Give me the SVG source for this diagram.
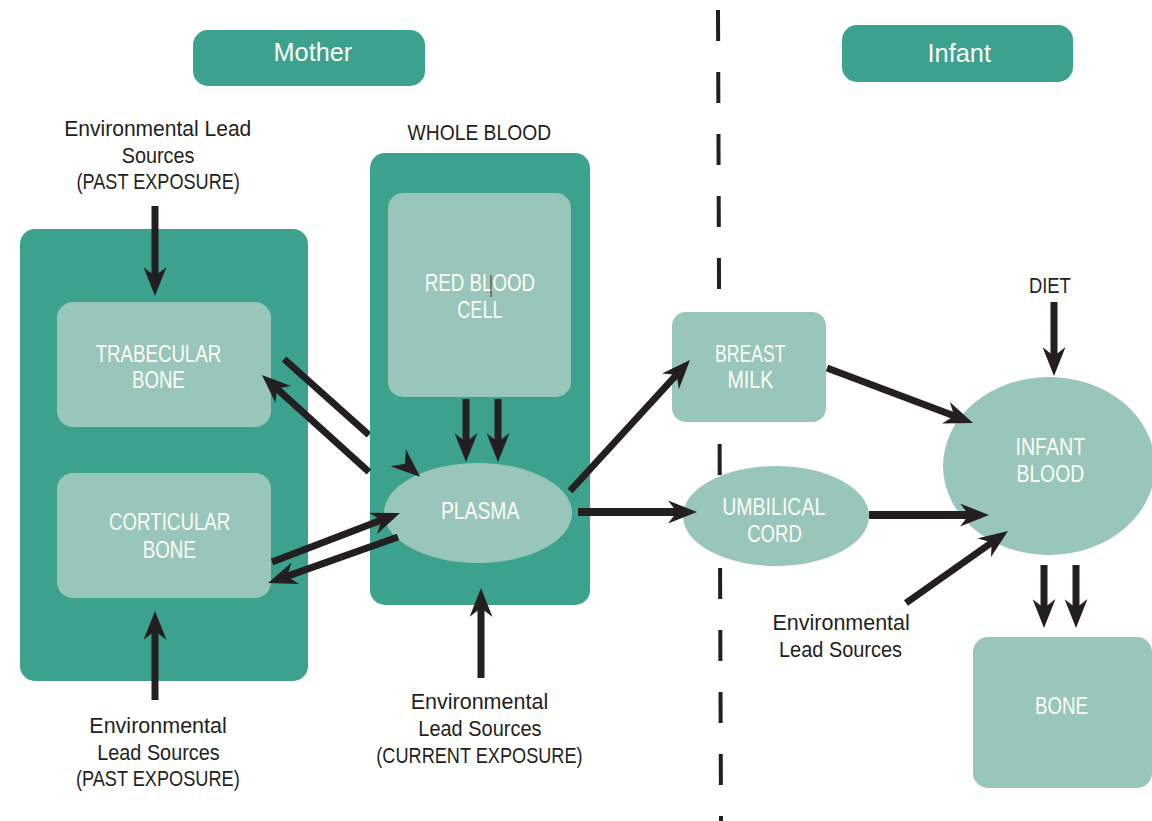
<svg xmlns="http://www.w3.org/2000/svg" width="1152" height="821" viewBox="0 0 1152 821">
<defs>
<style>
.dk{fill:#3ca28d}
.lt{fill:#98c6ba}
.t{font-family:"Liberation Sans",Arial,sans-serif;font-size:22px;fill:#231f20}
.w{font-family:"Liberation Sans",Arial,sans-serif;font-size:23px;fill:#fffef6}
.h{font-family:"Liberation Sans",Arial,sans-serif;font-size:25px;fill:#fffef6}
.a{stroke:#231f20;stroke-width:7;fill:none;marker-end:url(#ah)}
.a8{stroke:#231f20;stroke-width:8;fill:none;marker-end:url(#ah)}
.ln{stroke:#231f20;stroke-width:7;fill:none}
</style>
<marker id="ah" viewBox="0 0 29 23" markerWidth="29" markerHeight="23" refX="10" refY="11.5" orient="auto" markerUnits="userSpaceOnUse">
<path d="M0,0 L29,11.5 L0,23 L9,11.5 Z" fill="#231f20"/>
</marker>
</defs>
<rect width="1152" height="821" fill="#ffffff"/>
<line x1="718" y1="10" x2="721" y2="821" stroke="#231f20" stroke-width="4" stroke-dasharray="31 31"/>

<g id="mother-header">
<rect x="193" y="30" width="232" height="56" rx="15" class="dk"/>
<text x="273.6" y="61" class="h" textLength="78.5" lengthAdjust="spacingAndGlyphs">Mother</text>
</g>
<g id="infant-header">
<rect x="842" y="25" width="231" height="57" rx="15" class="dk"/>
<text x="927.5" y="62" class="h" textLength="63.5" lengthAdjust="spacingAndGlyphs">Infant</text>
</g>

<g id="env-past-top">
<text x="64.3" y="136" class="t" textLength="187" lengthAdjust="spacingAndGlyphs">Environmental Lead</text>
<text x="121.7" y="163" class="t" textLength="72.7" lengthAdjust="spacingAndGlyphs">Sources</text>
<text x="76.5" y="189" class="t" textLength="163.4" lengthAdjust="spacingAndGlyphs">(PAST EXPOSURE)</text>
</g>

<g id="bone-compartment">
<rect x="20" y="229" width="288" height="452" rx="15" class="dk"/>
</g>
<g id="trabecular-bone">
<rect x="57" y="302" width="214" height="125" rx="16" class="lt"/>
<text x="95.7" y="362" class="w" textLength="125.5" lengthAdjust="spacingAndGlyphs">TRABECULAR</text>
<text x="132" y="388" class="w" textLength="52.8" lengthAdjust="spacingAndGlyphs">BONE</text>
</g>
<g id="cortical-bone">
<rect x="57" y="473" width="214" height="125" rx="16" class="lt"/>
<text x="109" y="530" class="w" textLength="121.3" lengthAdjust="spacingAndGlyphs">CORTICULAR</text>
<text x="142.7" y="558" class="w" textLength="53.2" lengthAdjust="spacingAndGlyphs">BONE</text>
</g>

<g id="connectors-under">
<line x1="284" y1="359" x2="369" y2="435" class="ln"/>
</g>

<g id="whole-blood">
<text x="407.6" y="140" class="t" textLength="143.5" lengthAdjust="spacingAndGlyphs">WHOLE BLOOD</text>
<rect x="370" y="153" width="220" height="452" rx="15" class="dk"/>
</g>
<g id="red-blood-cell">
<rect x="388" y="193" width="183" height="204" rx="15" class="lt"/>
<text x="424.8" y="291" class="w" textLength="110.2" lengthAdjust="spacingAndGlyphs">RED BLOOD</text>
<line x1="491" y1="275" x2="491" y2="297" stroke="#6b1a1a" stroke-width="1"/>
<text x="457.3" y="318" class="w" textLength="45.2" lengthAdjust="spacingAndGlyphs">CELL</text>
</g>
<g id="plasma">
<ellipse cx="478" cy="513" rx="94" ry="50" class="lt"/>
<text x="440.9" y="519" class="w" textLength="78.5" lengthAdjust="spacingAndGlyphs">PLASMA</text>
</g>

<g id="env-past-bottom">
<text x="89.3" y="733" class="t" textLength="137.5" lengthAdjust="spacingAndGlyphs">Environmental</text>
<text x="97.3" y="760" class="t" textLength="122.3" lengthAdjust="spacingAndGlyphs">Lead Sources</text>
<text x="75.9" y="786" class="t" textLength="163.8" lengthAdjust="spacingAndGlyphs">(PAST EXPOSURE)</text>
</g>
<g id="env-current">
<text x="410.7" y="709" class="t" textLength="137.5" lengthAdjust="spacingAndGlyphs">Environmental</text>
<text x="418.3" y="736" class="t" textLength="123.2" lengthAdjust="spacingAndGlyphs">Lead Sources</text>
<text x="376.3" y="763" class="t" textLength="206.3" lengthAdjust="spacingAndGlyphs">(CURRENT EXPOSURE)</text>
</g>

<g id="breast-milk">
<rect x="672" y="312" width="154" height="110" rx="14" class="lt"/>
<text x="715.1" y="362" class="w" textLength="70.4" lengthAdjust="spacingAndGlyphs">BREAST</text>
<text x="727.5" y="388" class="w" textLength="45.8" lengthAdjust="spacingAndGlyphs">MILK</text>
</g>
<g id="umbilical-cord">
<ellipse cx="776" cy="516" rx="93" ry="50" class="lt"/>
<text x="722.2" y="515" class="w" textLength="103.2" lengthAdjust="spacingAndGlyphs">UMBILICAL</text>
<text x="747.2" y="542" class="w" textLength="54.6" lengthAdjust="spacingAndGlyphs">CORD</text>
</g>
<g id="diet">
<text x="1028.9" y="293" class="t" textLength="41.9" lengthAdjust="spacingAndGlyphs">DIET</text>
</g>
<g id="infant-blood">
<ellipse cx="1049" cy="466" rx="106" ry="89" class="lt"/>
<text x="1015.5" y="455" class="w" textLength="69.7" lengthAdjust="spacingAndGlyphs">INFANT</text>
<text x="1016.5" y="482" class="w" textLength="67.6" lengthAdjust="spacingAndGlyphs">BLOOD</text>
</g>
<g id="env-infant">
<text x="772.5" y="630" class="t" textLength="137.3" lengthAdjust="spacingAndGlyphs">Environmental</text>
<text x="779" y="657" class="t" textLength="123" lengthAdjust="spacingAndGlyphs">Lead Sources</text>
</g>
<g id="infant-bone">
<rect x="973" y="637" width="179" height="151" rx="15" class="lt"/>
<text x="1035" y="714" class="w" textLength="53" lengthAdjust="spacingAndGlyphs">BONE</text>
</g>

<g id="connectors">
<line x1="155" y1="206" x2="155" y2="277" class="a"/>
<line x1="155" y1="700" x2="155" y2="630" class="a"/>
<line x1="481" y1="678" x2="481" y2="607" class="a"/>
<line x1="466" y1="399" x2="466" y2="443" class="a"/>
<line x1="498" y1="399" x2="498" y2="443" class="a"/>
<line x1="405" y1="463.6" x2="405.8" y2="464.3" class="a"/>
<line x1="369" y1="472" x2="276" y2="387.8" class="a"/>
<line x1="272" y1="562" x2="382.3" y2="519.8" class="a"/>
<line x1="398" y1="537" x2="286" y2="576.6" class="a"/>
<line x1="570" y1="491" x2="677.2" y2="374" class="a"/>
<line x1="578" y1="512" x2="678" y2="512" class="a8"/>
<line x1="827" y1="368" x2="955.2" y2="416.3" class="a"/>
<line x1="869" y1="515" x2="970" y2="515" class="a8"/>
<line x1="906" y1="603" x2="992.5" y2="542" class="a"/>
<line x1="1054" y1="302" x2="1054" y2="357" class="a"/>
<line x1="1044" y1="565" x2="1044" y2="609" class="a"/>
<line x1="1076" y1="565" x2="1076" y2="609" class="a"/>
</g>
</svg>
